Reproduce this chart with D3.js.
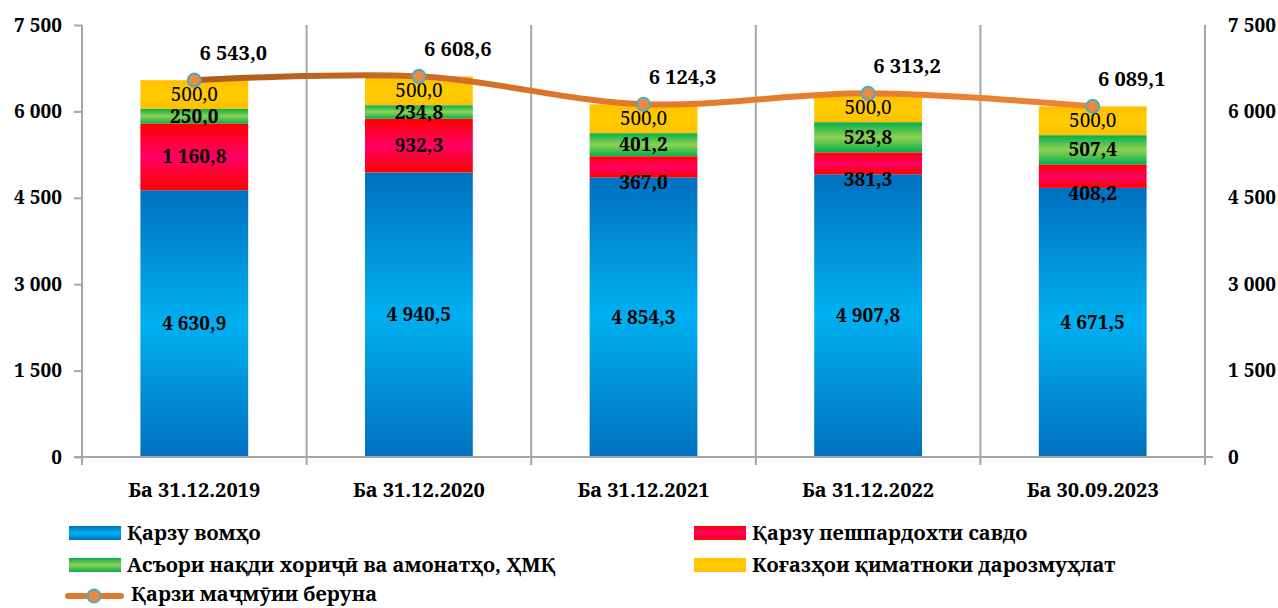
<!DOCTYPE html>
<html><head><meta charset="utf-8">
<script src="https://cdn.jsdelivr.net/npm/d3@7"></script>
<style>body{margin:0;background:#fff}svg{display:block}</style>
</head><body><svg id="c" width="1278" height="608"></svg>
<script>
const categories = ["Ба 31.12.2019","Ба 31.12.2020","Ба 31.12.2021","Ба 31.12.2022","Ба 30.09.2023"];
const seriesNames = ["Қарзу вомҳо","Қарзу пешпардохти савдо","Асъори нақди хориҷӣ ва амонатҳо, ҲМҚ","Коғазҳои қиматноки дарозмуҳлат"];
const loans = [4630.9, 4940.5, 4854.3, 4907.8, 4671.5];
const tradeCredit = [1160.8, 932.3, 367.0, 381.3, 408.2];
const currencyDeposits = [250.0, 234.8, 401.2, 523.8, 507.4];
const securities = [500.0, 500.0, 500.0, 500.0, 500.0];
const lineName = "Қарзи маҷмӯии беруна";
const totalDebt = [6543.0, 6608.6, 6124.3, 6313.2, 6089.1];
const yTicks = [0, 1500, 3000, 4500, 6000, 7500];

const FONT = '"Noto Serif","Liberation Serif",serif';
const svg = d3.select("#c");
const loc = d3.formatLocale({decimal:",", thousands:" ", grouping:[3], currency:["",""]});
const f1 = loc.format(",.1f"), f0 = loc.format(",.0f");
function txt(sel, size, weight){
  return sel.style("font-family",FONT).style("font-size",size+"px").style("font-weight",weight||"bold").attr("fill","#000");
}

const x = d3.scaleBand().domain(categories).range([82,1205]).paddingInner(0.52).paddingOuter(0.26);
const y = d3.scaleLinear().domain([0,7500]).range([457,25]);

const defs = svg.append("defs");
function grad(id, stops){
  const g = defs.append("linearGradient").attr("id",id).attr("x1",0).attr("y1",0).attr("x2",0).attr("y2",1);
  stops.forEach(s=>g.append("stop").attr("offset",s[0]).attr("stop-color",s[1]));
}
grad("gBlue",[[0,"#0070C0"],[0.5,"#00B0F0"],[1,"#0070C0"]]);
grad("gRed",[[0,"#FF0000"],[0.5,"#FF0066"],[1,"#FF0000"]]);
grad("gGreen",[[0,"#00B050"],[0.5,"#92D050"],[1,"#00B050"]]);
grad("gYellow",[[0,"#FFC000"],[0.5,"#FFCC00"],[1,"#FFC000"]]);
const lg = defs.append("linearGradient").attr("id","gLine").attr("gradientUnits","userSpaceOnUse")
  .attr("x1",150).attr("y1",0).attr("x2",1100).attr("y2",0);
lg.append("stop").attr("offset",0).attr("stop-color","#A9561A");
lg.append("stop").attr("offset",0.45).attr("stop-color","#E0772A");
lg.append("stop").attr("offset",1).attr("stop-color","#EE8535");

const fills = ["url(#gBlue)","url(#gRed)","url(#gGreen)","url(#gYellow)"];
const series = [loans, tradeCredit, currencyDeposits, securities];

const gridC = "#A6A6A6";
const step = x.step();
for(let i=0;i<=categories.length;i++){
  const xx = x.range()[0] + i*step;
  svg.append("line").attr("x1",xx).attr("x2",xx).attr("y1",y(7500)).attr("y2",y(0)+8)
    .attr("stroke",gridC).attr("stroke-width",2);
}

const ax = svg.append("g").attr("transform","translate(82,0)")
  .call(d3.axisLeft(y).tickValues(yTicks).tickSize(8).tickPadding(12).tickFormat(d=>f0(d)));
ax.select(".domain").remove();
ax.selectAll(".tick line").attr("stroke",gridC).attr("stroke-width",2);
txt(ax.selectAll("text"),19);
const ar = svg.append("g").attr("transform","translate(1205,0)")
  .call(d3.axisRight(y).tickValues(yTicks).tickSize(0).tickPadding(23).tickFormat(d=>f0(d)));
ar.select(".domain").remove();
txt(ar.selectAll("text"),19);

const bw = x.bandwidth();
categories.forEach((c,i)=>{
  let base = 0;
  series.forEach((s,k)=>{
    const v = s[i];
    svg.append("rect").attr("x",x(c)).attr("width",bw)
      .attr("y",y(base+v)).attr("height",y(base)-y(base+v)).attr("fill",fills[k]);
    base += v;
  });
});
svg.append("line").attr("x1",74).attr("x2",1213).attr("y1",y(0)).attr("y2",y(0)).attr("stroke",gridC).attr("stroke-width",2);

categories.forEach((c,i)=>{
  let base = 0;
  series.forEach((s,k)=>{
    const v = s[i];
    const y0 = y(base), y1 = y(base+v);
    let ly = (y0+y1)/2;
    if(k===1 && y0-y1 < 30) ly = y0+5;
    txt(svg.append("text").attr("x",x(c)+bw/2).attr("y",ly).attr("dy","0.35em")
      .attr("text-anchor","middle"),19,k===3?"normal":"bold").text(f1(v));
    base += v;
  });
});

const pts = categories.map((c,i)=>[x(c)+bw/2, y(totalDebt[i])]);
svg.append("path").attr("d",d3.line().curve(d3.curveCatmullRom.alpha(0.5))(pts))
  .attr("fill","none").attr("stroke","url(#gLine)").attr("stroke-width",6).attr("stroke-linecap","round");
svg.selectAll(".mk").data(pts).join("circle").attr("cx",d=>d[0]).attr("cy",d=>d[1]).attr("r",6.5)
  .attr("fill","#EE8A3E").attr("stroke","#4BACC6").attr("stroke-width",2);
pts.forEach((p,i)=>{
  txt(svg.append("text").attr("x",p[0]+39).attr("y",p[1]-27).attr("dy","0.35em").attr("text-anchor","middle"),20)
    .text(f1(totalDebt[i]));
});

categories.forEach(c=>{
  txt(svg.append("text").attr("x",x(c)+bw/2).attr("y",490).attr("dy","0.35em").attr("text-anchor","middle"),20).text(c);
});

const leg = [{x:69,y:533,k:0},{x:694,y:533,k:1},{x:69,y:565,k:2},{x:694,y:565,k:3}];
leg.forEach(l=>{
  svg.append("rect").attr("x",l.x).attr("y",l.y-7).attr("width",52).attr("height",14).attr("fill",fills[l.k]);
  txt(svg.append("text").attr("x",l.x+58).attr("y",l.y).attr("dy","0.35em"),20).text(seriesNames[l.k]);
});
svg.append("line").attr("x1",68).attr("x2",121).attr("y1",596).attr("y2",596).attr("stroke","#E07A2E").attr("stroke-width",6).attr("stroke-linecap","round");
svg.append("circle").attr("cx",94).attr("cy",596).attr("r",6.5).attr("fill","#EE8A3E").attr("stroke","#4BACC6").attr("stroke-width",2);
txt(svg.append("text").attr("x",131).attr("y",594).attr("dy","0.35em"),20).text(lineName);
</script></body></html>
